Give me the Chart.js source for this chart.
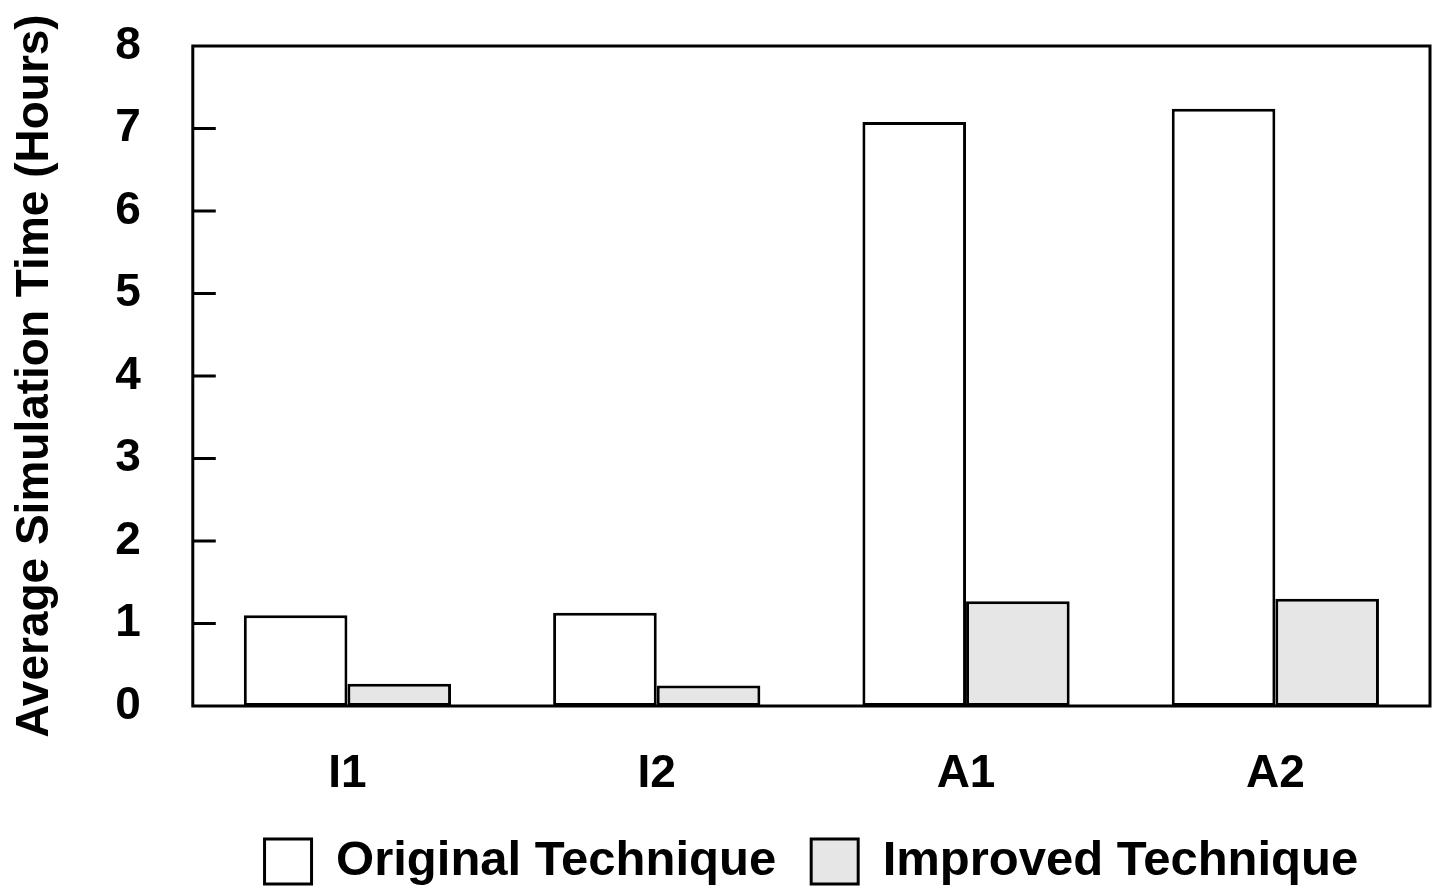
<!DOCTYPE html>
<html>
<head>
<meta charset="utf-8">
<script src="https://cdn.jsdelivr.net/npm/chart.js@4.4.1/dist/chart.umd.min.js"></script>
<style>
    body { margin: 0; background: #fff; }
    #wrap { width: 1434px; height: 886px; }
</style>
</head>
<body>
<div id="wrap"><canvas id="simChart" width="1434" height="886"></canvas></div>
<script>
const categories = ["I1", "I2", "A1", "A2"];
const originalTimes = [1.10, 1.13, 7.08, 7.24];
const improvedTimes = [0.27, 0.25, 1.27, 1.30];
const yTicks = [0, 1, 2, 3, 4, 5, 6, 7, 8];

const fontFamily = '"Liberation Sans", Arial, sans-serif';

// frame round the plot and short inward ticks on the y axis
const framePlugin = {
    id: 'frame',
    afterDatasetsDraw(chart) {
        const { ctx, chartArea } = chart;
        const y = chart.scales.y;
        ctx.save();
        ctx.strokeStyle = '#000';
        ctx.lineWidth = 3;
        ctx.strokeRect(chartArea.left, chartArea.top, chartArea.right - chartArea.left, chartArea.bottom - chartArea.top);
        ctx.beginPath();
        yTicks.slice(1, -1).forEach(v => {
            const py = y.getPixelForValue(v);
            ctx.moveTo(chartArea.left, py);
            ctx.lineTo(chartArea.left + 23, py);
        });
        ctx.stroke();
        ctx.restore();
    }
};

new Chart(document.getElementById("simChart"), {
    type: "bar",
    data: {
        labels: categories,
        datasets: [{
            label: "Original Technique",
            data: originalTimes,
            backgroundColor: "#ffffff",
            borderColor: "#000000",
            borderWidth: 3,
            borderSkipped: false
        }, {
            label: "Improved Technique",
            data: improvedTimes,
            backgroundColor: "#e6e6e6",
            borderColor: "#000000",
            borderWidth: 3,
            borderSkipped: false
        }]
    },
    options: {
        responsive: false,
        animation: false,
        layout: {
            padding: { top: 46, right: 4, left: 8, bottom: -10 }
        },
        categoryPercentage: 0.67,
        barPercentage: 1.0,
        scales: {
            x: {
                grid: { display: false, drawTicks: false },
                border: { display: false },
                ticks: {
                    color: "#000",
                    padding: 41,
                    font: { family: fontFamily, size: 46, weight: "bold" }
                },
                afterFit(scale) {
                    scale.height = 96;
                }
            },
            y: {
                min: 0,
                max: 8,
                afterBuildTicks(scale) {
                    scale.ticks = yTicks.map(v => ({ value: v }));
                },
                // tick padding is horizontal here, keep it out of the top/bottom
                afterFit(scale) {
                    scale.paddingTop = 0;
                    scale.paddingBottom = 0;
                },
                grid: { display: false, drawTicks: false },
                border: { display: false },
                ticks: {
                    color: "#000",
                    padding: 52,
                    font: { family: fontFamily, size: 46, weight: "bold" }
                },
                title: {
                    display: true,
                    text: "Average Simulation Time (Hours)",
                    color: "#000",
                    padding: 0,
                    font: { family: fontFamily, size: 46, weight: "bold" }
                }
            }
        },
        plugins: {
            legend: {
                position: "bottom",
                fullSize: false,
                labels: {
                    color: "#000",
                    boxWidth: 47,
                    boxHeight: 45,
                    padding: 35,
                    font: { family: fontFamily, size: 49, weight: "bold" }
                }
            },
            tooltip: { enabled: false }
        }
    },
    plugins: [framePlugin]
});
</script>
</body>
</html>
